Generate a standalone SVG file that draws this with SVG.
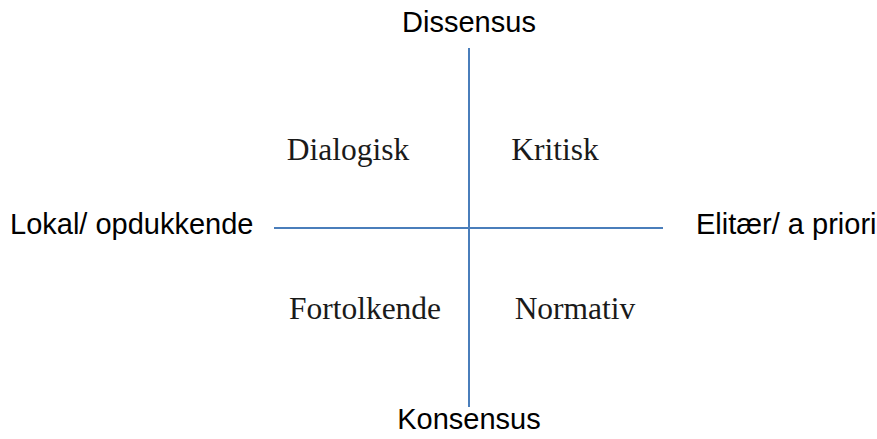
<svg xmlns="http://www.w3.org/2000/svg" width="877" height="439" viewBox="0 0 877 439">
<style>
.axis{stroke:#4a7ebb;stroke-width:2;fill:none}
.sans{font-family:"Liberation Sans",Arial,Helvetica,sans-serif;font-size:29px;fill:#000}
.serif{font-family:"Liberation Serif","Times New Roman",serif;font-size:31.5px;fill:#1a1a1a}
</style>
<rect width="877" height="439" fill="#fff"/>
<g id="connectors">
<line class="axis" x1="469" y1="48" x2="469" y2="407"/>
<line class="axis" x1="274" y1="228" x2="663" y2="228"/>
</g>
<g id="dissensus"><text class="sans" x="469" y="32" text-anchor="middle">Dissensus</text></g>
<g id="konsensus"><text class="sans" x="469" y="429" text-anchor="middle">Konsensus</text></g>
<g id="lokal"><text class="sans" x="10" y="234">Lokal/ opdukkende</text></g>
<g id="elitaer"><text class="sans" x="696" y="234">Elitær/ a priori</text></g>
<g id="dialogisk"><text class="serif" x="348" y="160" text-anchor="middle">Dialogisk</text></g>
<g id="kritisk"><text class="serif" x="555" y="160" text-anchor="middle">Kritisk</text></g>
<g id="fortolkende"><text class="serif" x="365" y="319" text-anchor="middle">Fortolkende</text></g>
<g id="normativ"><text class="serif" x="575" y="319" text-anchor="middle">Normativ</text></g>
</svg>
